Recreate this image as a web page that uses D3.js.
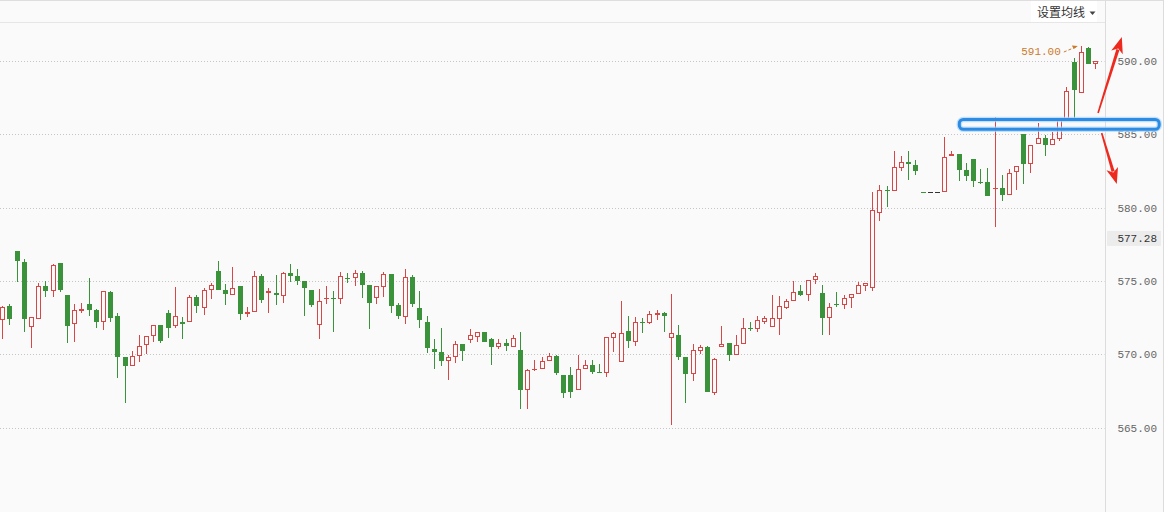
<!DOCTYPE html>
<html><head><meta charset="utf-8">
<script src="https://cdn.jsdelivr.net/npm/d3@7"></script>
<style>html,body{margin:0;padding:0;background:#fafafa;overflow:hidden}</style>
</head><body><svg id="c" width="1164" height="512"></svg>
<script>
// ---- data ----
const openP=[572.32,573.29,577.04,576.29,571.84,572.38,574.63,574.29,576.20,574.04,
572.04,572.95,573.43,573.02,572.18,574.24,572.59,569.82,569.18,569.86,
570.61,571.23,571.98,572.81,571.91,572.20,572.18,573.90,573.17,574.40,
575.67,574.38,574.06,574.65,572.77,572.86,575.33,574.20,574.18,573.99,
575.54,575.33,574.99,574.38,571.98,573.79,573.86,573.75,575.20,575.18,
575.54,574.72,573.86,574.61,575.47,573.36,572.56,575.27,573.14,572.20,
570.36,570.14,569.52,569.80,570.70,571.00,571.20,571.52,571.04,570.48,
570.75,570.48,570.29,567.57,568.91,568.98,569.52,569.86,568.57,568.57,
567.55,568.98,569.25,568.79,568.75,571.09,569.50,571.57,570.86,572.18,
572.11,572.70,572.79,571.09,571.30,569.80,568.64,570.20,570.48,567.38,
570.48,570.75,569.93,570.68,571.81,571.70,572.22,571.84,572.38,573.14,
573.61,574.29,574.02,575.04,574.16,572.45,573.41,573.34,573.81,574.09,
574.63,574.50,579.60,581.19,581.10,582.67,583.08,582.87,581.04,581.04,
581.04,581.04,583.49,583.62,582.53,583.28,581.72,581.72,581.28,581.31,
580.83,582.40,584.99,582.94,584.31,584.71,584.24,584.65,585.96,589.89,
587.78,590.87,589.80];
const highP=[573.29,573.43,577.04,576.49,572.52,574.86,574.97,576.15,576.20,574.04,
573.43,573.50,575.20,573.09,574.29,574.33,572.81,569.82,570.22,571.31,
571.23,571.98,571.98,573.02,574.59,572.54,574.04,574.04,574.52,574.86,
576.36,574.79,575.95,574.65,573.22,575.67,575.47,574.52,575.40,575.61,
576.15,575.81,574.99,574.38,574.47,574.65,574.31,575.61,575.52,575.76,
575.70,574.72,574.63,575.63,575.47,573.50,575.81,575.40,574.31,572.61,
571.04,571.79,569.93,570.91,570.70,571.72,571.50,571.52,571.11,571.04,
571.04,571.30,571.52,568.98,569.61,569.80,570.07,569.97,568.57,569.12,
569.93,569.61,569.59,569.32,571.20,571.54,573.63,572.59,572.52,572.49,
572.93,573.00,572.86,574.09,571.98,569.80,570.68,570.63,570.54,569.75,
571.91,570.75,571.30,572.45,572.18,572.61,572.59,574.04,573.95,573.75,
574.97,574.70,575.04,575.52,574.70,573.47,574.22,574.02,574.09,574.90,
574.84,581.04,581.51,581.44,583.85,583.49,583.85,583.22,581.04,581.04,
581.04,584.78,583.83,583.62,583.01,583.32,582.60,582.67,586.14,582.19,
582.60,582.81,584.99,584.24,585.74,584.92,585.12,585.96,588.19,590.20,
591.00,590.93,589.96];
const lowP=[571.06,572.02,574.95,571.54,570.45,572.38,573.92,573.88,574.26,570.79,
570.86,572.79,572.63,571.81,571.68,572.22,568.41,566.70,569.18,569.45,
570.02,570.86,570.79,571.13,571.77,571.06,572.18,572.79,572.68,573.79,
574.40,573.36,574.06,572.36,572.56,572.86,573.52,572.83,573.36,573.52,
574.95,574.74,572.63,573.20,571.06,573.45,571.54,573.45,574.86,574.67,
573.84,571.74,573.45,573.92,572.83,572.43,572.09,573.24,571.81,570.11,
569.02,569.22,568.27,569.39,569.56,570.75,570.86,570.86,569.29,570.38,
570.25,570.48,566.30,566.30,568.84,568.98,569.52,568.61,567.04,567.04,
567.55,568.98,568.64,568.75,568.43,570.18,569.50,570.45,570.57,571.47,
572.04,572.32,571.54,565.18,569.63,566.66,568.20,570.04,567.45,567.25,
570.48,569.52,569.93,570.68,571.57,571.50,572.04,571.84,571.29,573.07,
573.61,573.97,573.65,574.77,571.33,571.33,573.20,573.07,573.14,574.09,
574.29,574.29,579.06,580.01,581.10,582.47,581.85,582.19,581.04,581.04,
581.04,581.04,583.49,581.83,581.83,581.38,581.62,580.76,578.69,580.46,
580.83,581.21,581.62,582.33,584.31,583.53,584.24,584.51,585.96,586.01,
587.78,589.80,589.46];
const closeP=[573.20,572.43,576.38,572.41,572.52,574.63,574.33,576.08,574.40,571.95,
573.00,573.07,573.04,572.22,574.29,572.49,569.84,569.22,569.86,570.54,
571.23,571.98,570.93,571.81,572.59,572.04,573.88,573.27,574.38,574.72,
574.40,574.13,574.52,572.77,572.90,575.31,573.72,574.33,574.06,575.52,
575.35,575.01,574.50,573.38,573.61,573.86,573.79,575.31,575.13,575.52,
574.74,573.52,574.63,575.47,573.31,572.63,575.25,573.45,572.36,570.41,
570.18,569.56,569.80,570.70,570.25,571.30,571.50,570.86,570.52,570.75,
570.59,571.09,567.59,568.91,569.00,569.52,569.86,568.75,567.38,567.45,
568.98,569.25,568.81,568.75,571.16,571.43,571.43,570.93,572.18,572.13,
572.73,572.79,572.63,571.43,569.84,568.68,570.27,570.48,567.45,569.66,
570.72,569.97,570.65,571.77,571.74,572.32,572.45,572.45,573.27,573.61,
574.22,574.02,575.04,575.31,572.49,573.20,573.34,573.81,574.09,574.70,
574.84,579.81,581.17,581.14,582.74,583.08,582.94,582.51,581.04,581.04,
581.04,583.42,583.62,582.57,582.17,581.83,581.67,580.76,581.33,580.87,
582.37,582.81,582.98,584.24,584.71,584.26,584.65,585.96,587.92,588.00,
590.61,589.80,589.96];
const yTicks=[565,570,575,580,585,590];
const refPrice=577.28;
const headerLabel="设置均线";

// ---- layout ----
const W=1164,H=512,plotRight=1105.5,axisTextX=1157;
const RED="#d64848",GREEN="#3a923a",FLAT="#333333",BG="#fafafa";
const data=openP.map((o,i)=>({o,h:highP[i],l:lowP[i],c:closeP[i]}));
const svg=d3.select("#c");
const x=d3.scaleLinear().domain([0,data.length-1]).range([2.3,1095.2]);
const y=d3.scaleLinear().domain([565,590]).range([427.7,60.7]);

svg.append("rect").attr("width",W).attr("height",H).attr("fill",BG);

// frame lines
svg.append("line").attr("x1",0).attr("x2",W).attr("y1",0.5).attr("y2",0.5).attr("stroke","#dedede");
svg.append("line").attr("x1",0).attr("x2",plotRight).attr("y1",22.5).attr("y2",22.5).attr("stroke","#e6e6e6");
svg.append("line").attr("x1",plotRight).attr("x2",plotRight).attr("y1",0).attr("y2",H).attr("stroke","#dcdcdc");
svg.append("line").attr("x1",W-0.5).attr("x2",W-0.5).attr("y1",0).attr("y2",H).attr("stroke","#dcdcdc");

// header
svg.append("rect").attr("x",1031).attr("y",1).attr("width",66).attr("height",21).attr("fill","#ffffff");
svg.append("text").attr("x",1037).attr("y",17).attr("font-family","Noto Sans CJK SC").attr("font-size",12)
  .attr("fill","#333").text(headerLabel);
svg.append("path").attr("d","M1089.5,11.5 L1095.5,11.5 L1092.5,15 Z").attr("fill","#444");

// gridlines
svg.append("g").selectAll("line").data(yTicks).join("line")
  .attr("x1",0).attr("x2",plotRight-1)
  .attr("y1",d=>Math.round(y(d))+0.5).attr("y2",d=>Math.round(y(d))+0.5)
  .attr("stroke","#c6c6c6").attr("stroke-dasharray","1,2");

// axis labels
const axis=d3.axisLeft(y).tickValues(yTicks).tickSize(0).tickPadding(0).tickFormat(d=>d.toFixed(2));
const ag=svg.append("g").attr("transform",`translate(${axisTextX},0)`).call(axis);
ag.select(".domain").remove();
ag.attr("font-family","Liberation Mono, DejaVu Sans Mono, monospace").attr("font-size",11);
ag.selectAll("text").attr("fill","#666");

// reference price label
const refY=y(refPrice)-9;
svg.append("rect").attr("x",1107).attr("y",refY-7.5).attr("width",54).attr("height",15).attr("fill","#ececec");
svg.append("text").attr("x",axisTextX).attr("y",refY).attr("dy","0.32em").attr("text-anchor","end")
  .attr("font-family","Liberation Mono, DejaVu Sans Mono, monospace").attr("font-size",11).attr("fill","#333")
  .text(refPrice.toFixed(2));

// candles
const cg=svg.append("g");
data.forEach((d,i)=>{
  const cx=Math.round(x(i));
  let col;
  if(d.c>d.o) col=RED; else if(d.c<d.o) col=GREEN;
  else { const pc=i>0?data[i-1].c:d.c; col=d.c>pc?RED:(d.c<pc?GREEN:FLAT); }
  const yT=Math.round(y(Math.max(d.o,d.c))), yB=Math.round(y(Math.min(d.o,d.c)));
  const yH=Math.round(y(d.h)), yL=Math.round(y(d.l));
  const wx=cx+0.5;
  const g=cg.append("g");
  if(yB-yT<2){
    if(yL>yH) g.append("line").attr("x1",wx).attr("x2",wx).attr("y1",yH).attr("y2",yL).attr("stroke",col);
    g.append("rect").attr("x",cx-2).attr("y",yT).attr("width",5).attr("height",Math.max(1,yB-yT)).attr("fill",col);
  } else if(col===RED){
    if(yT>yH) g.append("line").attr("x1",wx).attr("x2",wx).attr("y1",yH).attr("y2",yT).attr("stroke",col);
    if(yL>yB) g.append("line").attr("x1",wx).attr("x2",wx).attr("y1",yB).attr("y2",yL).attr("stroke",col);
    g.append("rect").attr("x",cx-1.5).attr("y",yT+0.5).attr("width",4).attr("height",yB-yT-1)
      .attr("fill",BG).attr("stroke",col);
  } else {
    if(yL>yH) g.append("line").attr("x1",wx).attr("x2",wx).attr("y1",yH).attr("y2",yL).attr("stroke",col);
    g.append("rect").attr("x",cx-2).attr("y",yT).attr("width",5).attr("height",yB-yT).attr("fill",col);
  }
});

// max-high annotation
const maxHigh=d3.max(highP), maxIdx=highP.indexOf(maxHigh);
const ORANGE="#cc7a2c";
const mx=x(maxIdx), my=y(maxHigh);
svg.append("text").attr("x",mx-20).attr("y",my+5).attr("dy","0.32em").attr("text-anchor","end")
  .attr("font-family","Liberation Mono, DejaVu Sans Mono, monospace").attr("font-size",11).attr("fill",ORANGE)
  .text(maxHigh.toFixed(2));
svg.append("line").attr("x1",mx-17).attr("y1",my+6).attr("x2",mx-5).attr("y2",my+1)
  .attr("stroke",ORANGE).attr("stroke-dasharray","3,2");
svg.append("path").attr("d",`M${mx-3},${my} L${mx-9},${my-0.5} L${mx-7},${my+3} Z`).attr("fill",ORANGE);

// blue highlight box
const bx1=x(133.1), bx2=x(160.9), by1=y(586.0), by2=y(585.33);
svg.append("rect").attr("x",bx1).attr("y",by1).attr("width",bx2-bx1).attr("height",by2-by1).attr("rx",4)
  .attr("fill","none").attr("stroke","#a9d4ff").attr("stroke-width",5.5).attr("opacity",0.7);
svg.append("rect").attr("x",bx1).attr("y",by1).attr("width",bx2-bx1).attr("height",by2-by1).attr("rx",4)
  .attr("fill","none").attr("stroke","#2c8be3").attr("stroke-width",3);

// red arrows
function arrow(x1,y1,x2,y2){
  const dx=x2-x1, dy=y2-y1, len=Math.hypot(dx,dy), ux=dx/len, uy=dy/len, px=-uy, py=ux;
  const hl=16, hw=6;
  const bxp=x2-ux*hl, byp=y2-uy*hl;
  svg.append("path")
    .attr("d",`M${x1-px*0.8},${y1-py*0.8} L${bxp+ux*3-px*1.6},${byp+uy*3-py*1.6} L${bxp+ux*3+px*1.6},${byp+uy*3+py*1.6} L${x1+px*0.8},${y1+py*0.8} Z`)
    .attr("fill","#ee2a1e");
  svg.append("path").attr("d",`M${x2},${y2} L${bxp+px*hw},${byp+py*hw} L${bxp+ux*4},${byp+uy*4} L${bxp-px*hw},${byp-py*hw} Z`)
    .attr("fill","#ee2a1e");
}
arrow(x(152.4),y(586.44),x(155.7),y(591.61));
arrow(x(152.9),y(585.08),x(155.0),y(581.60));
</script></body></html>
